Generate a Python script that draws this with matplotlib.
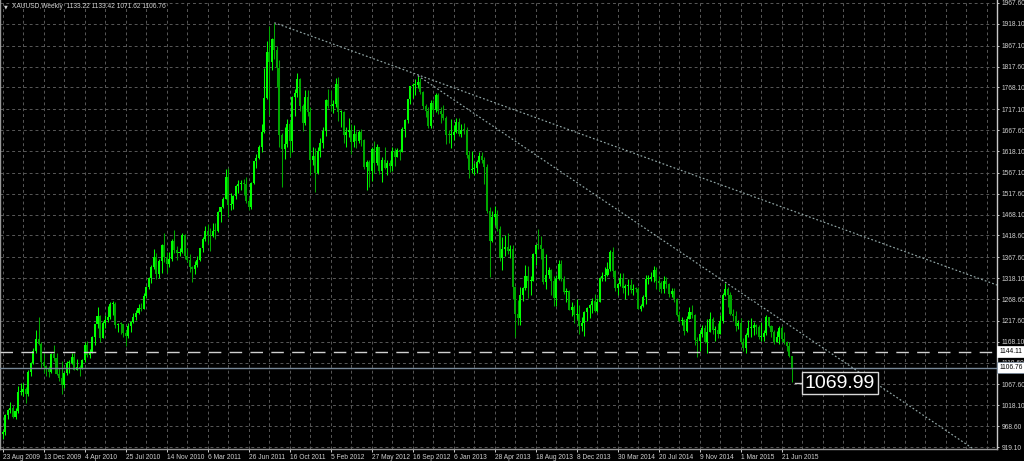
import numpy as np
import matplotlib
matplotlib.use("Agg")
import matplotlib.pyplot as plt
import matplotlib.transforms as mtransforms

# ---------------- data (XAUUSD weekly, week starting 23 Aug 2009) ----------------
first_open = 950.0
closes = [
    # 2009
    955, 995, 1006, 1011, 990, 1004, 1050, 1050, 1056, 1045, 1096, 1118, 1146, 1175, 1162, 1120, 1111, 1104, 1097,
    # 2010
    1138, 1130, 1092, 1082, 1065, 1093, 1117, 1117, 1132, 1102, 1107, 1104, 1125, 1161, 1136, 1142, 1180, 1209, 1228,
    1177, 1212, 1218, 1227, 1256, 1256, 1208, 1210, 1209, 1189, 1181, 1205, 1215, 1227, 1236, 1248, 1246, 1275, 1297,
    1318, 1345, 1368, 1327, 1359, 1397, 1367, 1352, 1362, 1405, 1385, 1378, 1380, 1420,
    # 2011
    1369, 1360, 1343, 1340, 1350, 1361, 1388, 1410, 1429, 1420, 1418, 1430, 1429, 1474, 1486, 1504, 1556, 1491, 1492,
    1513, 1536, 1541, 1542, 1539, 1500, 1486, 1542, 1594, 1602, 1628, 1663, 1744, 1852, 1828, 1883, 1856, 1813, 1657,
    1622, 1635, 1681, 1642, 1746, 1755, 1788, 1724, 1685, 1746, 1710, 1598, 1606, 1565,
    # 2012
    1617, 1638, 1666, 1739, 1725, 1724, 1728, 1776, 1710, 1710, 1657, 1662, 1668, 1640, 1659, 1642, 1663, 1645, 1580,
    1592, 1572, 1622, 1590, 1627, 1572, 1598, 1578, 1590, 1583, 1619, 1604, 1620, 1616, 1671, 1691, 1740, 1771, 1773,
    1773, 1780, 1757, 1725, 1712, 1676, 1731, 1714, 1751, 1712, 1705, 1696, 1657, 1656,
    # 2013
    1656, 1662, 1687, 1658, 1668, 1667, 1609, 1573, 1576, 1578, 1592, 1607, 1597, 1581, 1476, 1406, 1462, 1469, 1435,
    1366, 1386, 1392, 1383, 1387, 1297, 1234, 1223, 1277, 1294, 1322, 1310, 1312, 1376, 1396, 1395, 1386, 1308, 1326,
    1337, 1310, 1272, 1315, 1351, 1315, 1286, 1288, 1243, 1250, 1231, 1234, 1204, 1213,
    # 2014
    1237, 1247, 1254, 1264, 1240, 1262, 1319, 1323, 1326, 1339, 1379, 1335, 1294, 1303, 1318, 1294, 1300, 1302, 1290,
    1293, 1292, 1246, 1252, 1274, 1316, 1316, 1320, 1337, 1310, 1307, 1293, 1310, 1305, 1280, 1287, 1269, 1231, 1216,
    1218, 1192, 1222, 1239, 1231, 1171, 1169, 1185, 1201, 1167, 1191, 1222, 1195, 1195,
    # 2015
    1186, 1216, 1277, 1293, 1278, 1234, 1228, 1204, 1213, 1167, 1152, 1183, 1199, 1201, 1207, 1203, 1178, 1179, 1188,
    1225, 1205, 1190, 1168, 1180, 1201, 1173, 1168, 1157, 1133.22, 1106.76,
]
highs = [
    960, 997, 1010, 1025, 1018, 1012, 1062, 1071, 1070, 1060, 1101, 1120, 1153, 1195, 1227, 1167, 1140, 1112, 1111,
    1140, 1161, 1141, 1105, 1123, 1097, 1123, 1125, 1141, 1142, 1128, 1112, 1128, 1167, 1169, 1150, 1181, 1210, 1249,
    1232, 1216, 1232, 1252, 1262, 1263, 1262, 1213, 1215, 1209, 1195, 1212, 1217, 1236, 1243, 1256, 1259, 1283, 1300,
    1320, 1350, 1387, 1378, 1363, 1398, 1424, 1380, 1380, 1410, 1432, 1393, 1388, 1424,
    1423, 1390, 1374, 1347, 1358, 1370, 1390, 1416, 1440, 1445, 1436, 1448, 1447, 1476, 1487, 1510, 1575, 1577, 1520,
    1515, 1537, 1549, 1550, 1552, 1556, 1510, 1545, 1595, 1610, 1632, 1682, 1814, 1877, 1913, 1885, 1921, 1865, 1832,
    1660, 1675, 1693, 1688, 1748, 1765, 1803, 1790, 1728, 1763, 1763, 1722, 1627, 1625,
    1628, 1648, 1675, 1740, 1764, 1763, 1738, 1790, 1792, 1715, 1712, 1674, 1697, 1682, 1680, 1665, 1668, 1669, 1646,
    1597, 1597, 1627, 1642, 1634, 1628, 1605, 1627, 1596, 1596, 1628, 1625, 1626, 1624, 1675, 1694, 1742, 1772, 1779,
    1787, 1796, 1791, 1760, 1730, 1723, 1738, 1738, 1755, 1754, 1723, 1726, 1700, 1668,
    1694, 1679, 1695, 1697, 1683, 1684, 1675, 1617, 1619, 1589, 1597, 1616, 1615, 1605, 1587, 1487, 1476, 1488, 1478,
    1440, 1416, 1419, 1424, 1397, 1395, 1300, 1267, 1297, 1298, 1348, 1346, 1324, 1378, 1397, 1433, 1418, 1388, 1375,
    1345, 1340, 1324, 1326, 1361, 1361, 1322, 1294, 1291, 1261, 1255, 1268, 1254, 1225,
    1240, 1249, 1256, 1270, 1280, 1270, 1320, 1332, 1345, 1355, 1385, 1392, 1337, 1306, 1331, 1331, 1305, 1315, 1315,
    1305, 1298, 1296, 1257, 1279, 1325, 1325, 1333, 1346, 1345, 1322, 1312, 1322, 1320, 1306, 1294, 1294, 1272, 1240,
    1226, 1222, 1229, 1250, 1255, 1233, 1178, 1193, 1208, 1207, 1221, 1238, 1225, 1206,
    1211, 1230, 1282, 1307, 1298, 1285, 1244, 1240, 1219, 1223, 1177, 1188, 1219, 1224, 1215, 1209, 1207, 1214, 1195,
    1232, 1227, 1208, 1195, 1193, 1205, 1204, 1190, 1170, 1167, 1133.42,
]
lows = [
    937, 948, 985, 1000, 987, 985, 1000, 1042, 1040, 1024, 1040, 1086, 1116, 1140, 1160, 1106, 1093, 1086, 1084,
    1095, 1123, 1090, 1075, 1045, 1058, 1088, 1094, 1115, 1100, 1100, 1087, 1104, 1120, 1131, 1130, 1140, 1160, 1199,
    1166, 1176, 1200, 1214, 1221, 1232, 1200, 1191, 1187, 1180, 1157, 1176, 1191, 1213, 1220, 1233, 1240, 1244, 1270,
    1293, 1306, 1340, 1315, 1318, 1329, 1357, 1330, 1344, 1359, 1377, 1360, 1371, 1378,
    1363, 1356, 1333, 1308, 1328, 1345, 1358, 1380, 1406, 1398, 1381, 1416, 1410, 1428, 1450, 1484, 1504, 1462, 1478,
    1480, 1505, 1520, 1525, 1515, 1495, 1478, 1482, 1540, 1578, 1600, 1615, 1660, 1742, 1702, 1810, 1835, 1770, 1627,
    1533, 1600, 1628, 1603, 1615, 1700, 1746, 1713, 1666, 1680, 1700, 1562, 1585, 1522,
    1563, 1603, 1625, 1653, 1720, 1712, 1707, 1722, 1688, 1674, 1636, 1627, 1650, 1612, 1627, 1626, 1636, 1631, 1575,
    1527, 1532, 1547, 1566, 1584, 1564, 1546, 1575, 1562, 1568, 1571, 1582, 1603, 1598, 1615, 1650, 1684, 1728, 1743,
    1750, 1766, 1753, 1717, 1699, 1672, 1673, 1705, 1711, 1705, 1684, 1692, 1635, 1636,
    1626, 1645, 1660, 1653, 1652, 1658, 1602, 1555, 1565, 1562, 1565, 1590, 1590, 1540, 1472, 1321, 1403, 1444, 1430,
    1359, 1338, 1370, 1375, 1366, 1268, 1180, 1207, 1207, 1263, 1290, 1271, 1277, 1311, 1348, 1387, 1363, 1305, 1292,
    1318, 1277, 1252, 1251, 1313, 1310, 1281, 1262, 1242, 1228, 1211, 1221, 1186, 1193,
    1182, 1217, 1224, 1235, 1238, 1237, 1261, 1310, 1311, 1322, 1334, 1321, 1287, 1277, 1300, 1283, 1268, 1277, 1283,
    1278, 1284, 1245, 1240, 1250, 1256, 1305, 1310, 1308, 1292, 1287, 1282, 1283, 1294, 1273, 1274, 1261, 1228, 1215,
    1207, 1183, 1190, 1221, 1223, 1161, 1131, 1147, 1180, 1165, 1142, 1190, 1186, 1170,
    1176, 1190, 1213, 1276, 1250, 1232, 1216, 1192, 1198, 1164, 1147, 1142, 1178, 1180, 1183, 1185, 1175, 1170, 1170,
    1183, 1203, 1180, 1163, 1170, 1163, 1168, 1162, 1147, 1131, 1071.62,
]

price_ticks = [1967.60, 1918.10, 1867.10, 1817.60, 1768.10, 1717.10, 1667.60, 1618.10, 1567.10, 1517.60,
               1468.10, 1418.60, 1367.60, 1318.10, 1268.60, 1217.60, 1168.10, 1118.60, 1067.60, 1018.10,
               968.60, 919.10]
date_labels = ["23 Aug 2009", "13 Dec 2009", "4 Apr 2010", "25 Jul 2010", "14 Nov 2010", "6 Mar 2011",
               "26 Jun 2011", "16 Oct 2011", "5 Feb 2012", "27 May 2012", "16 Sep 2012", "6 Jan 2013",
               "28 Apr 2013", "18 Aug 2013", "8 Dec 2013", "30 Mar 2014", "20 Jul 2014", "9 Nov 2014",
               "1 Mar 2015", "21 Jun 2015"]
date_label_bars = list(range(0, 305, 16))
grid_bars = list(range(0, 385, 8))

# trend lines: (bar, price) anchors
trend1 = [(106, 1921.0), (162, 1798.0)]
trend2 = [(162, 1796.0), (375, 930.0)]
support_level = 1144.11
bid_level = 1106.76
label_price = 1069.99
header = "XAUUSD,Weekly  1133.22 1133.42 1071.62 1106.76"

# ---------------- style ----------------
BULL = "#00ff00"
BEAR = "#00a800"
GRID = "#585858"
TXT = "#d0d0d0"
FONT = ["Liberation Sans", "DejaVu Sans"]
plt.rcParams["font.family"] = FONT

W, H = 1024, 461
fig = plt.figure(figsize=(W / 100, H / 100), dpi=100, facecolor="black")
ax = fig.add_axes([0, 12 / H, 997 / W, 449 / H])
ax.set_facecolor("black")

closes = np.array(closes, float)
highs = np.array(highs, float)
lows = np.array(lows, float)
opens = np.r_[first_open, closes[:-1]]
idx = np.arange(len(closes))

xmin, xmax = -1.054, 388.0
ymin, ymax = 914.4, 1974.68
ax.set_xlim(xmin, xmax)
ax.set_ylim(ymin, ymax)

# grid
for p in price_ticks:
    ax.axhline(p, color=GRID, lw=0.7, ls=(0, (3, 3)), zorder=0)
for b in grid_bars:
    ax.axvline(b, color=GRID, lw=0.7, ls=(0, (3, 3)), zorder=0)

# candles
up = closes >= opens
cols = np.where(up, BULL, BEAR)
ax.vlines(idx, np.minimum(lows, np.minimum(opens, closes)), np.maximum(highs, np.maximum(opens, closes)),
          colors=cols, lw=0.75, zorder=3)
body_lo = np.minimum(opens, closes)
body_h = np.maximum(np.abs(closes - opens), 2.4)
ax.bar(idx, body_h, bottom=body_lo, width=0.8, color=cols, linewidth=0, zorder=3)

# trend lines (rays)
def ray(anchors, **kw):
    (x0, y0), (x1, y1) = anchors
    slope = (y1 - y0) / (x1 - x0)
    xe = xmax + 5
    ax.plot([x0, xe], [y0, y0 + slope * (xe - x0)], **kw)

ray(trend1, color="#93a8a8", lw=0.85, ls=(0, (1.5, 1.8)), zorder=4)
ray(trend2, color="#93a8a8", lw=0.85, ls=(0, (1.5, 1.8)), zorder=4)

# horizontal lines
ax.axhline(support_level, color="#d0d0d0", lw=1.0, ls=(0, (9, 6)), zorder=4)
ax.axhline(bid_level, color="#778899", lw=1.0, zorder=4)

# price label object
lb = 312.4
ax.plot([lb - 3.2, lb], [label_price, label_price], color="#d0d0d0", lw=1.0, zorder=5)
ax.text(lb + 0.6, label_price, f"{label_price:.2f}", color="white", fontsize=14, va="center", ha="left",
        zorder=6, bbox=dict(boxstyle="square,pad=0.14", fc="black", ec="#d8d8d8", lw=1.0))

# spines
ax.spines["top"].set_visible(False)
ax.spines["right"].set_color("#c8c8c8")
ax.spines["left"].set_color("#9a9a9a")
ax.spines["bottom"].set_color("#9a9a9a")
for s in ["right", "left", "bottom"]:
    ax.spines[s].set_linewidth(1.0)

# y ticks on right
ax.yaxis.tick_right()
ax.set_yticks(price_ticks)
ax.set_yticklabels([f"{p:.2f}" for p in price_ticks])
ax.tick_params(axis="y", colors=TXT, labelsize=4.8, length=1.5, pad=2, width=0.7)

# x ticks
ax.set_xticks(date_label_bars)
ax.set_xticklabels(date_labels)
ax.tick_params(axis="x", colors=TXT, labelsize=4.8, length=2.5, pad=1, width=0.7)
for lab in ax.get_xticklabels():
    lab.set_horizontalalignment("left")

# axis value boxes
trans = mtransforms.blended_transform_factory(ax.transAxes, ax.transData)
ax.text(1.0025, support_level, f"{support_level:.2f}", transform=trans, fontsize=4.8, color="black",
        va="center", ha="left", clip_on=False, zorder=10,
        bbox=dict(boxstyle="square,pad=0.3", fc="white", ec="white", lw=0.5))
ax.text(1.0025, bid_level, f"{bid_level:.2f}", transform=trans, fontsize=4.8, color="black",
        va="center", ha="left", clip_on=False, zorder=10,
        bbox=dict(boxstyle="square,pad=0.3", fc="white", ec="#778899", lw=0.6))

# header
fig.text(3.5 / W, 1 - 7 / H, "\u25bc", color=TXT, fontsize=3.5, va="center", ha="left", family=["DejaVu Sans"])
fig.text(12 / W, 1 - 7 / H, header, color=TXT, fontsize=4.8, va="center", ha="left")

fig.savefig("out.png", dpi=100, facecolor="black")
